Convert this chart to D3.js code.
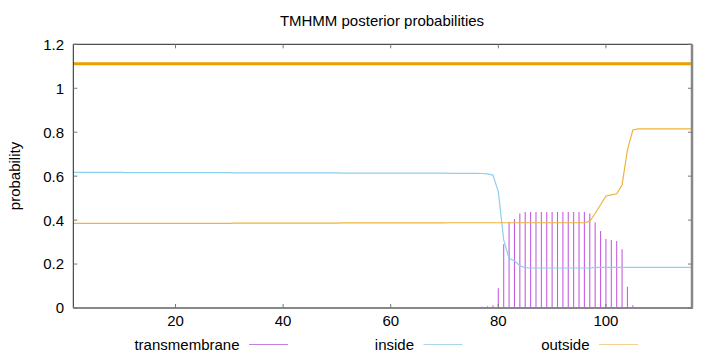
<!DOCTYPE html>
<html>
<head>
<meta charset="utf-8">
<script src="https://cdn.jsdelivr.net/npm/d3@7"></script>
<style>
  html, body { margin: 0; padding: 0; background: #fff; }
  svg { display: block; font-family: "Liberation Sans", Arial, sans-serif; }
</style>
</head>
<body>
<svg id="chart" width="720" height="352"></svg>
<script>
// ---- data ----
const title = "TMHMM posterior probabilities";
const yLabel = "probability";
const seriesNames = ["transmembrane", "inside", "outside"];
const xTicks = [20, 40, 60, 80, 100];
const yTicks = [0, 0.2, 0.4, 0.6, 0.8, 1, 1.2];
const yTickLabels = ["0", "0.2", "0.4", "0.6", "0.8", "1", "1.2"];
const xDomain = [1, 116];
const yDomain = [0, 1.2];
// topology bar: whole sequence predicted "outside"
const topology = [{ start: 1, end: 116, value: 1.112, type: "outside" }];

// per-residue posterior probabilities, positions 1..116
const transmembrane = [
  0,0,0,0,0,0,0,0,0,0, 0,0,0,0,0,0,0,0,0,0,
  0,0,0,0,0,0,0,0,0,0, 0,0,0,0,0,0,0,0,0,0,
  0,0,0,0,0,0,0,0,0,0, 0,0,0,0,0,0,0,0,0,0,
  0,0,0,0,0,0,0,0,0,
  0.001,0.001,0.001,0.002,0.002,0.003,0.004,0.006,0.008,0.012,
  0.09,0.29,0.39,0.405,0.43,
  0.437,0.437,0.437,0.437,0.437,0.437,0.437,0.437,0.437,0.437,0.437,0.437,
  0.43,0.39,0.35,0.314,0.31,0.305,0.267,0.097,0.012,0.003,0.001,
  0,0,0,0,0,0,0,0,0
];
const inside = [
  0.617,0.617,0.617,0.617,0.617,0.617,0.617,0.617,0.617,0.617,
  0.616,0.616,0.616,0.616,0.616,0.616,0.616,0.616,0.616,0.616,
  0.616,0.616,0.616,0.616,0.616,0.616,0.616,0.616,0.616,0.616,
  0.615,0.615,0.615,0.615,0.615,0.615,0.615,0.615,0.615,0.615,
  0.615,0.615,0.615,0.615,0.615,0.615,0.615,0.615,0.615,0.615,
  0.614,0.614,0.614,0.614,0.614,0.614,0.614,0.614,0.614,0.614,
  0.614,0.614,0.614,0.614,0.614,0.614,0.614,0.614,0.614,0.614,
  0.613,0.613,0.613,0.613,0.613,0.613,
  0.612,0.610,0.605,0.530,0.310,0.225,0.215,0.192,0.184,
  0.182,0.182,0.182,0.182,0.182,0.182,0.182,0.182,0.182,0.182,0.182,0.182,
  0.185,0.185,0.185,0.185,0.185,0.185,0.185,0.185,0.185,0.185,
  0.185,0.185,0.185,0.185,0.185,0.185,0.185,0.185,0.185
];
const outside = [
  0.385,0.385,0.385,0.385,0.385,0.385,0.385,0.385,0.385,0.385,
  0.385,0.385,0.385,0.385,0.385,0.385,0.385,0.385,0.385,0.385,
  0.385,0.385,0.385,0.385,0.385,0.385,0.385,0.385,0.385,0.385,
  0.386,0.386,0.386,0.386,0.386,0.386,0.386,0.386,0.386,0.386,
  0.386,0.386,0.386,0.386,0.386,0.386,0.386,0.386,0.386,0.386,
  0.387,0.387,0.387,0.387,0.387,0.387,0.387,0.387,0.387,0.387,
  0.387,0.387,0.387,0.387,0.387,0.387,0.387,0.387,0.387,0.387,
  0.388,0.388,0.388,0.388,0.388,0.388,0.388,0.388,0.388,0.388,
  0.388,0.388,0.388,0.388,0.388,0.388,0.388,0.388,0.388,0.388,
  0.388,0.388,0.388,0.388,0.388,0.388,
  0.395,0.43,0.47,0.51,0.515,0.52,0.56,0.72,0.81,
  0.815,0.815,0.815,0.815,0.815,0.815,0.815,0.815,0.815,0.815,0.815
];

// ---- drawing ----
const colors = { transmembrane: "#c55fe2", inside: "#8ccfee", outside: "#f0b43a", topo: "#e9a100" };
const legendColors = { transmembrane: "#c47ee4", inside: "#acd7ea", outside: "#f5d291" };

const svg = d3.select("#chart");
const L = 73.3, R = 692, T = 44.3, B = 308;
const x = d3.scaleLinear().domain(xDomain).range([L, R]);
const y = d3.scaleLinear().domain(yDomain).range([B, T]);
const pos = transmembrane.map((_, i) => i + 1);

// title
svg.append("text").attr("x", 382).attr("y", 25.5).attr("text-anchor", "middle")
  .attr("font-size", 15).attr("fill", "#000").text(title);

// y label
svg.append("text").attr("transform", "translate(19.5,176) rotate(-90)")
  .attr("text-anchor", "middle").attr("font-size", 15).attr("fill", "#000").text(yLabel);

// impulses (transmembrane)
svg.append("g").selectAll("line").data(pos.filter((p, i) => transmembrane[i] > 0)).join("line")
  .attr("x1", p => x(p)).attr("x2", p => x(p))
  .attr("y1", y(0)).attr("y2", p => y(transmembrane[p - 1]))
  .attr("stroke", colors.transmembrane).attr("stroke-width", 1.1);

const line = d3.line().x(d => x(d[0])).y(d => y(d[1]));
svg.append("path").datum(pos.map((p, i) => [p, inside[i]])).attr("d", line)
  .attr("fill", "none").attr("stroke", colors.inside).attr("stroke-width", 1.2);
svg.append("path").datum(pos.map((p, i) => [p, outside[i]])).attr("d", line)
  .attr("fill", "none").attr("stroke", colors.outside).attr("stroke-width", 1.2);

// topology bar
svg.append("g").selectAll("line").data(topology).join("line")
  .attr("x1", d => x(d.start)).attr("x2", d => x(d.end))
  .attr("y1", d => y(d.value)).attr("y2", d => y(d.value))
  .attr("stroke", colors.topo).attr("stroke-width", 3);

// border
svg.append("line").attr("x1", L).attr("x2", R).attr("y1", T).attr("y2", T).attr("stroke", "#222").attr("stroke-width", 1);
svg.append("line").attr("x1", L).attr("x2", L).attr("y1", T).attr("y2", B).attr("stroke", "#222").attr("stroke-width", 1);
svg.append("line").attr("x1", L).attr("x2", R + 1).attr("y1", B).attr("y2", B).attr("stroke", "#888").attr("stroke-width", 2);
svg.append("line").attr("x1", R).attr("x2", R).attr("y1", T).attr("y2", B).attr("stroke", "#888").attr("stroke-width", 2.5);

// ticks (mirrored, inward)
const tk = 4;
const g = svg.append("g").attr("stroke", "#777").attr("stroke-width", 1);
xTicks.forEach(v => {
  g.append("line").attr("x1", x(v)).attr("x2", x(v)).attr("y1", B).attr("y2", B - tk);
  g.append("line").attr("x1", x(v)).attr("x2", x(v)).attr("y1", T).attr("y2", T + tk);
});
yTicks.forEach(v => {
  g.append("line").attr("x1", L).attr("x2", L + tk).attr("y1", y(v)).attr("y2", y(v));
  g.append("line").attr("x1", R).attr("x2", R - tk).attr("y1", y(v)).attr("y2", y(v));
});

// tick labels
svg.append("g").selectAll("text").data(xTicks).join("text")
  .attr("x", d => x(d)).attr("y", 326).attr("text-anchor", "middle")
  .attr("font-size", 15).attr("fill", "#000").text(d => d);
svg.append("g").selectAll("text").data(yTicks).join("text")
  .attr("x", 64).attr("y", d => y(d)).attr("dy", "0.36em").attr("text-anchor", "end")
  .attr("font-size", 15).attr("fill", "#000").text((d, i) => yTickLabels[i]);

// legend
const legendX = [239.5, 414, 589.5];
seriesNames.forEach((name, i) => {
  svg.append("text").attr("x", legendX[i]).attr("y", 350).attr("text-anchor", "end")
    .attr("font-size", 15).attr("fill", "#000").text(name);
  svg.append("line").attr("x1", legendX[i] + 9.5).attr("x2", legendX[i] + 48.5)
    .attr("y1", 344.5).attr("y2", 344.5).attr("stroke", legendColors[name]).attr("stroke-width", 1);
});
</script>
</body>
</html>
